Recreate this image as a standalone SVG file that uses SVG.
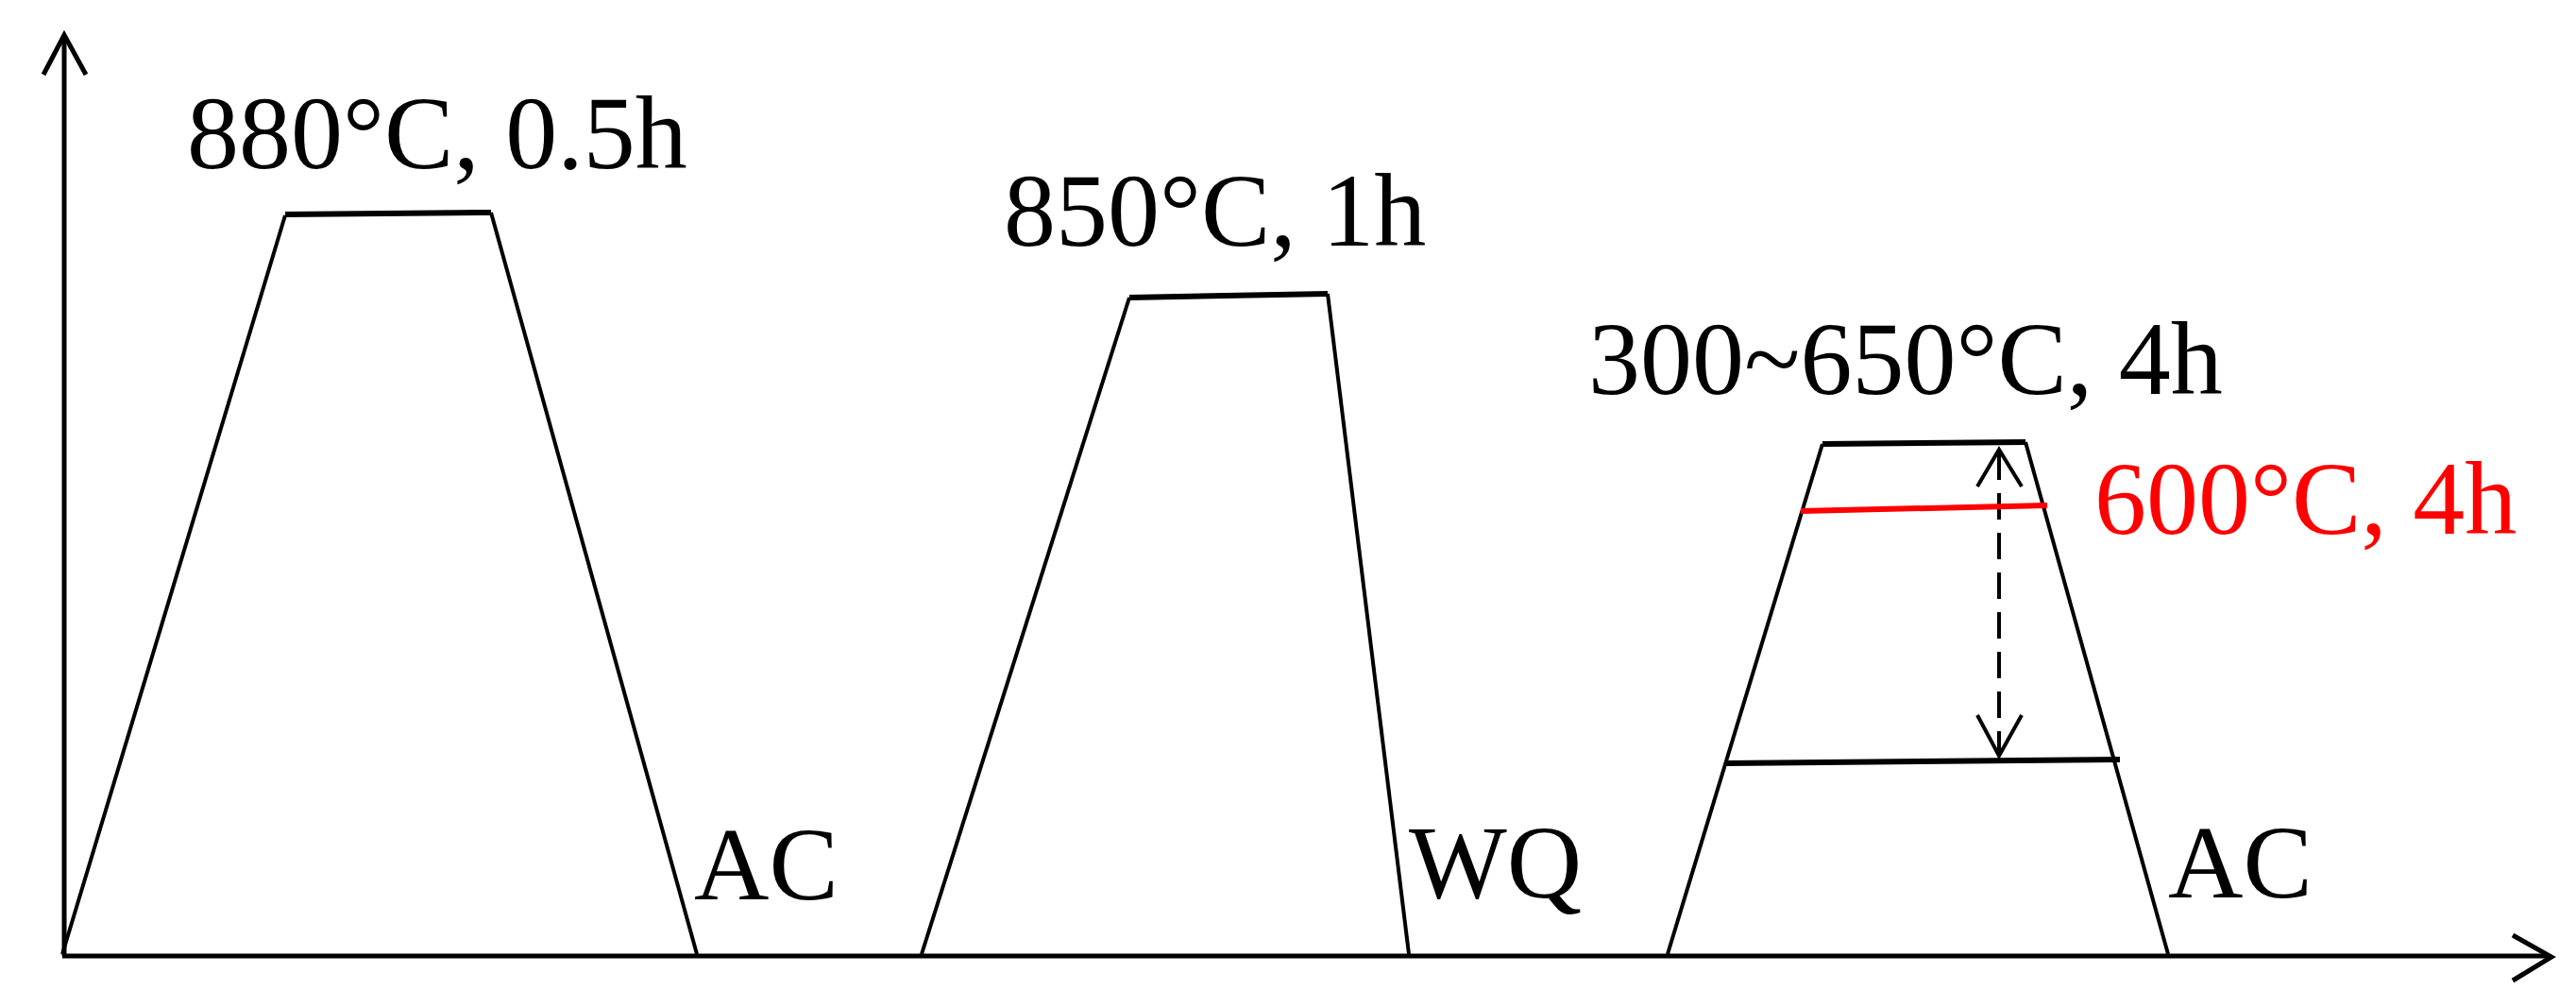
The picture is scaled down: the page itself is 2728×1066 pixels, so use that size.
<svg xmlns="http://www.w3.org/2000/svg" width="2728" height="1066" viewBox="0 0 2728 1066">
<style>
.t{font-family:"Liberation Serif","Times New Roman",serif;font-size:110px;fill:#000}
.red{fill:#ff0000}
.ln{fill:none;stroke:#000;stroke-width:4;stroke-linejoin:miter}
.ax{fill:none;stroke:#000;stroke-width:5}
.plat{fill:none;stroke:#000;stroke-width:6}
</style>
<rect width="2728" height="1066" fill="#fff"/>
<g id="connectors">
<g id="axes">
<line class="ax" x1="68" y1="1012" x2="68" y2="38"/>
<polyline class="ax" points="46,79 68,37 91,79"/>
<line class="ax" x1="66" y1="1012" x2="2700" y2="1012"/>
<polyline class="ax" points="2661,990 2702,1013 2661,1038"/>
</g>
<g id="range-arrow">
<line x1="2117" y1="480" x2="2117" y2="796" stroke="#000" stroke-width="4" stroke-dasharray="28,14"/>
<polyline class="ln" points="2094,515 2117,476 2141,515"/>
<polyline class="ln" points="2094,757 2117,800 2141,757"/>
</g>
</g>
<g id="stage1">
<polyline class="ln" points="66,1010 302,228"/>
<line class="plat" x1="302" y1="227" x2="520" y2="225"/>
<polyline class="ln" points="520,225 738,1010"/>
<text class="t" x="198" y="178">880°C, 0.5h</text>
<text class="t" x="735" y="952">AC</text>
</g>
<g id="stage2">
<polyline class="ln" points="976,1010 1196,315"/>
<line class="plat" x1="1196" y1="315" x2="1406" y2="311"/>
<polyline class="ln" points="1406,311 1492,1010"/>
<text class="t" x="1063" y="260">850°C, 1h</text>
<text class="t" x="1492" y="950">WQ</text>
</g>
<g id="stage3">
<polyline class="ln" points="1766,1010 1930,470"/>
<line class="plat" x1="1930" y1="470" x2="2145" y2="468"/>
<polyline class="ln" points="2145,468 2296,1010"/>
<line class="plat" x1="1828" y1="808" x2="2245" y2="804"/>
<line x1="1907" y1="541" x2="2168" y2="535" stroke="#ff0000" stroke-width="6"/>
<text class="t" x="1682" y="417">300~650°C, 4h</text>
<text class="t red" x="2218" y="565">600°C, 4h</text>
<text class="t" x="2296" y="950">AC</text>
</g>
</svg>
